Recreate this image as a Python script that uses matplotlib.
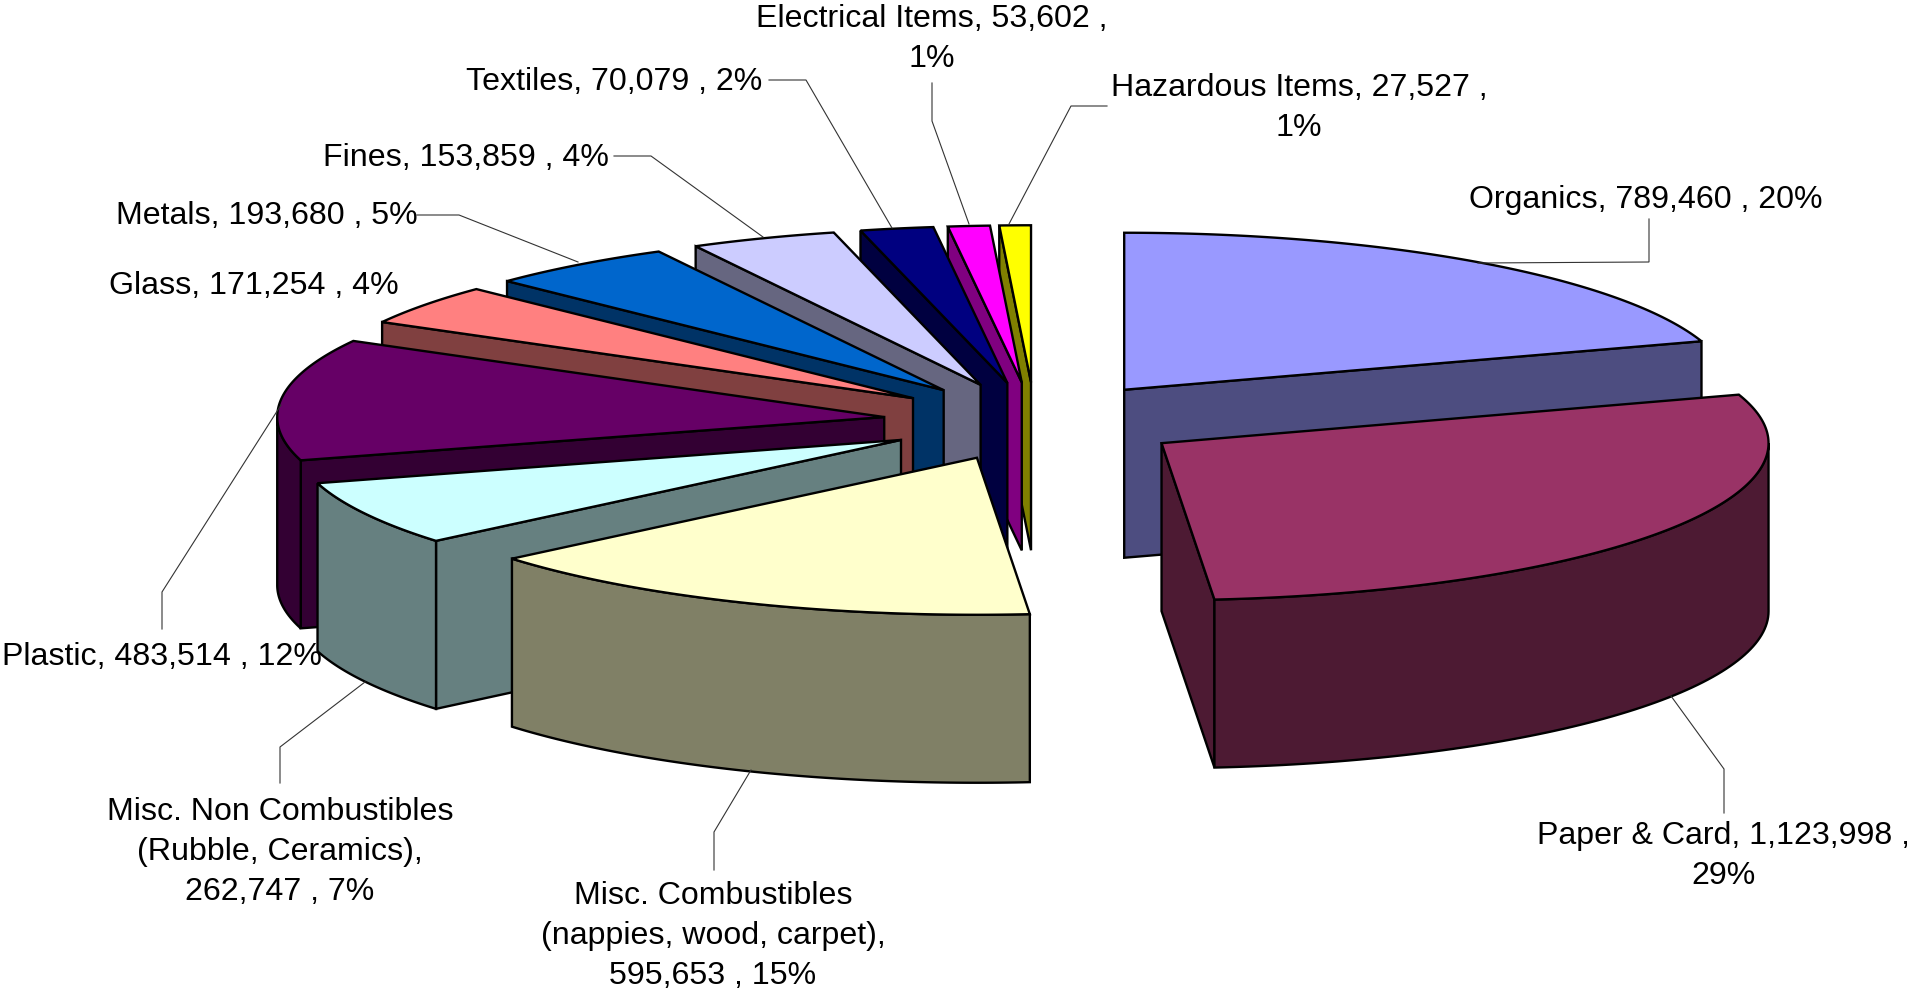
import numpy as np
import matplotlib
matplotlib.use("Agg")
import matplotlib.pyplot as plt
from matplotlib.patches import Polygon

categories = ["Organics", "Paper & Card", "Misc. Combustibles", "Misc. Non Combustibles",
              "Plastic", "Glass", "Metals", "Fines", "Textiles", "Electrical Items", "Hazardous Items"]
values = [789460, 1123998, 595653, 262747, 483514, 171254, 193680, 153859, 70079, 53602, 27527]
labels = ["Organics, 789,460 , 20%",
          "Paper & Card, 1,123,998 ,\n29%",
          "Misc. Combustibles\n(nappies, wood, carpet),\n595,653 , 15%",
          "Misc. Non Combustibles\n(Rubble, Ceramics),\n262,747 , 7%",
          "Plastic, 483,514 , 12%",
          "Glass, 171,254 , 4%",
          "Metals, 193,680 , 5%",
          "Fines, 153,859 , 4%",
          "Textiles, 70,079 , 2%",
          "Electrical Items, 53,602 ,\n1%",
          "Hazardous Items, 27,527 ,\n1%"]
top_colors = ["#9999FF", "#993366", "#FFFFCC", "#CCFFFF", "#660066", "#FF8080",
              "#0066CC", "#CCCCFF", "#000080", "#FF00FF", "#FFFF00"]
side_colors = ["#4D4D80", "#4D1A33", "#808066", "#668080", "#330033", "#804040",
               "#003366", "#666680", "#000040", "#800080", "#808000"]
label_pos = [(1646, 200), (1724, 856), (713, 936), (280, 852), (162, 657), (254, 286),
             (266.5, 216), (466, 158), (614, 82), (932, 39), (1299, 108)]
leaders = [[(1649, 219), (1649, 262), (1478, 263)],
           [(1724, 813), (1724, 769), (1671, 696)],
           [(714, 870), (714, 832), (751, 770)],
           [(280, 783), (280, 747), (365, 682)],
           [(162, 629), (162, 592), (281, 405)],
           None,
           [(417, 215), (459, 215), (578, 262)],
           [(614, 156), (651, 156), (763, 237)],
           [(769, 80), (806, 80), (892, 228)],
           [(932, 83), (932, 121), (969, 224)],
           [(1107, 106), (1071, 106), (1009, 224)]]

CX, CY, RX, RY, DEPTH, EXPLODE = 1035.0, 421.5, 607.0, 157.0, 168.0, 0.25
LW = 1.7

fig = plt.figure(figsize=(19.08, 9.89), dpi=100)
ax = fig.add_axes([0, 0, 1, 1])
ax.set_xlim(0, 1908)
ax.set_ylim(989, 0)
ax.axis("off")

# slice boundaries fall on whole degrees in the reference
edges = np.round(np.concatenate([[0], np.cumsum(values) / sum(values) * 360]))


def rim(ax0, ay0, theta):
    t = np.radians(theta)
    return np.column_stack([ax0 + RX * np.sin(t), ay0 - RY * np.cos(t)])


def face(pts, color, z):
    ax.add_patch(Polygon(pts, closed=True, facecolor=color, edgecolor="black",
                         linewidth=LW, joinstyle="miter", zorder=z))


down = np.array([0, DEPTH])
for i in range(len(values)):
    t0, t1 = edges[i], edges[i + 1]
    mid = np.radians((t0 + t1) / 2)
    ax0 = CX + EXPLODE * RX * np.sin(mid)
    ay0 = CY - EXPLODE * RY * np.cos(mid)
    # painter's order: right side first, then the left side from the back forward
    z = 1 + (0 if i < 2 else (len(values) - i + 1)) * 1.0
    apex = np.array([ax0, ay0])
    for th, vis in ((t0, 180 < t0 < 360), (t1, 0 < t1 < 180)):
        if vis:
            p = rim(ax0, ay0, np.array([th]))[0]
            face([apex, p, p + down, apex + down], side_colors[i], z)
    a = max(t0, 90)
    b = min(t1, 270)
    if b > a:
        arc = rim(ax0, ay0, np.linspace(a, b, 80))
        face(np.vstack([arc, (arc + down)[::-1]]), side_colors[i], z)
    arc = rim(ax0, ay0, np.linspace(t0, t1, 150))
    face(np.vstack([apex, arc]), top_colors[i], z + 0.5)

for path in leaders:
    if path:
        xs, ys = zip(*path)
        ax.plot(xs, ys, color="#333333", lw=0.8, zorder=30, solid_joinstyle="miter")

for lab, (x, y) in zip(labels, label_pos):
    ax.text(x, y, lab, ha="center", va="center", family=["Liberation Sans"], fontsize=23.1,
            color="black", linespacing=1.43, zorder=40)

fig.savefig("out.png", dpi=100, facecolor="white")
